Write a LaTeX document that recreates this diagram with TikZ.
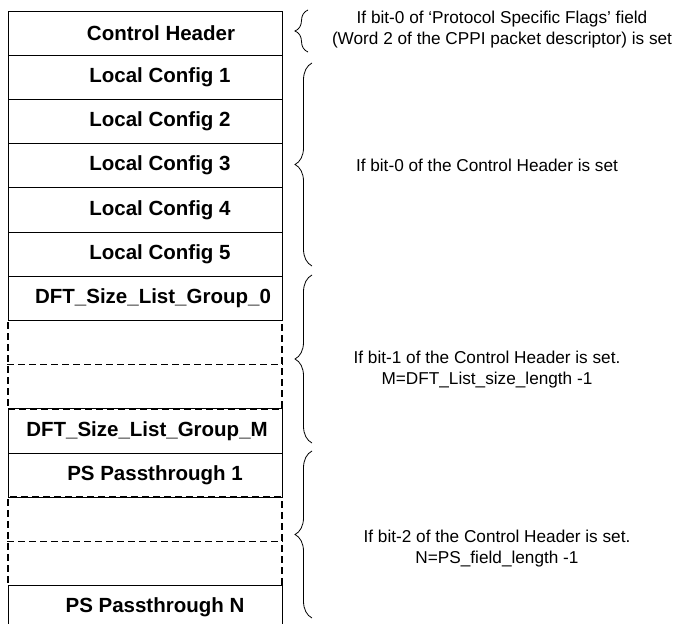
\documentclass[tikz,border=0pt]{standalone}
\usepackage{fontspec}
\setmainfont{Liberation Sans}
\usetikzlibrary{decorations.pathreplacing}

\begin{document}
\begin{tikzpicture}[x=1pt, y=-1pt,
    cell/.style={rectangle, draw=black, line width=0.8pt, minimum width=274pt, minimum height=44.2pt, inner sep=0pt, font=\fontsize{20.5}{24}\selectfont\bfseries},
    gap/.style={rectangle, draw=black, line width=1.6pt, dash pattern=on 7pt off 4pt, minimum width=274pt, minimum height=88.4pt, inner sep=0pt},
    note/.style={align=center, inner sep=0pt, font=\fontsize{17.2}{21}\selectfont},
    brc/.style={decorate, decoration={brace, amplitude=17pt}, line width=0.8pt}]
    \clip (0, 0) rectangle (676, 623);

    %Empty rows
    \node[gap] at (145, 364.6) (g1) {};
    \node[gap] at (145, 541.4) (g2) {};
    \draw[line width=1.6pt, dash pattern=on 7pt off 4pt] (g1.west) -- (g1.east);
    \draw[line width=1.6pt, dash pattern=on 7pt off 4pt] (g2.west) -- (g2.east);

    %Rows
    \node[cell] at (145, 33.1) (ch) {\hspace*{32pt}Control Header};
    \node[cell] at (145, 77.3) (lc1) {\hspace*{30pt}Local Config 1};
    \node[cell] at (145, 121.5) (lc2) {\hspace*{30pt}Local Config 2};
    \node[cell] at (145, 165.7) (lc3) {\hspace*{30pt}Local Config 3};
    \node[cell] at (145, 209.9) (lc4) {\hspace*{30pt}Local Config 4};
    \node[cell] at (145, 254.1) (lc5) {\hspace*{30pt}Local Config 5};
    \node[cell] at (145, 298.3) (dft0) {\hspace*{16pt}DFT\_Size\_List\_Group\_0};
    \node[cell] at (145, 430.9) (dftm) {\hspace*{4pt}DFT\_Size\_List\_Group\_M};
    \node[cell] at (145, 475.1) (ps1) {\hspace*{20pt}PS Passthrough 1};
    \node[cell] at (145, 607.7) (psn) {\hspace*{20pt}PS Passthrough N};

    %Braces
    \draw[brc, decoration={amplitude=13pt}] (308, 52) -- (308, 10);
    \draw[brc] (312, 266) -- (312, 63);
    \draw[brc] (312, 443) -- (312, 275);
    \draw[brc] (312, 618) -- (312, 451);

    %Notes
    \node[note] at (502, 30) (n1) {If bit-0 of ‘Protocol Specific Flags’ field\\(Word 2 of the CPPI packet descriptor) is set};
    \node[note] at (487, 165) (n2) {If bit-0 of the Control Header is set};
    \node[note] at (487, 370) (n3) {If bit-1 of the Control Header is set.\\M=DFT\_List\_size\_length -1};
    \node[note] at (497, 549) (n4) {If bit-2 of the Control Header is set.\\N=PS\_field\_length -1};
\end{tikzpicture}
\end{document}
